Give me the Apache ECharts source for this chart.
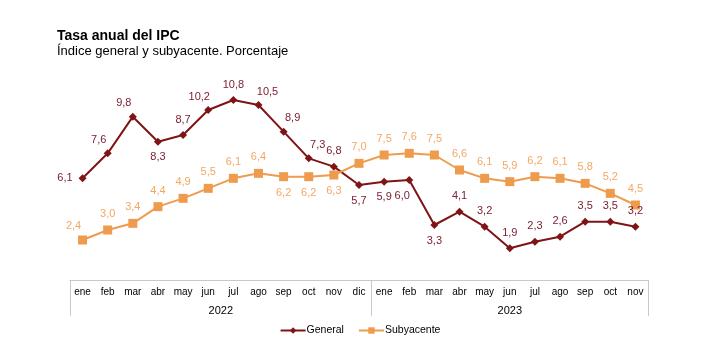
<!DOCTYPE html>
<html><head><meta charset="utf-8">
<script src="https://cdn.jsdelivr.net/npm/echarts@6/dist/echarts.min.js"></script>
<style>html,body{margin:0;padding:0;background:#fff}#c{width:720px;height:361px}</style>
</head><body><div id="c"></div>
<script>
var months = ['ene','feb','mar','abr','may','jun','jul','ago','sep','oct','nov','dic','ene','feb','mar','abr','may','jun','jul','ago','sep','oct','nov'];
var years = ['2022','2023'];
var general = [6.1,7.6,9.8,8.3,8.7,10.2,10.8,10.5,8.9,7.3,6.8,5.7,5.9,6.0,3.3,4.1,3.2,1.9,2.3,2.6,3.5,3.5,3.2];
var subyacente = [2.4,3.0,3.4,4.4,4.9,5.5,6.1,6.4,6.2,6.2,6.3,7.0,7.5,7.6,7.5,6.6,6.1,5.9,6.2,6.1,5.8,5.2,4.5];
// label placement per point (l = left, t = top, b = bottom, tl = top-left, tr = top-right, bl = bottom-left)
var genPos = ['l','tl','tl','b','t','tl','t','tr','tr','tr','t','b','b','bl','b','t','t','t','t','t','t','t','t'];
var subPos = ['tl','t','t','t','t','t','t','t','b','b','b','t','t','t','t','t','t','t','t','t','t','t','t'];

function fmt(p){ return p.value.toFixed(1).replace('.', ','); }
function lab(p, color){
  var o = {show:true, color:color, fontSize:11, fontFamily:'Liberation Sans, Arial, sans-serif', distance:6, formatter:fmt};
  if(p==='l'){o.position='left'; o.distance=6;}
  else if(p==='t'){o.position='top';}
  else if(p==='b'){o.position='bottom';}
  else if(p==='tl'){o.position='top'; o.offset=[-9,2];}
  else if(p==='tr'){o.position='top'; o.offset=[9,2];}
  else if(p==='bl'){o.position='bottom'; o.offset=[-7,0];}
  return o;
}
var genData = general.map(function(v,i){return {value:v, label:lab(genPos[i],'#7a2233')};});
var subData = subyacente.map(function(v,i){return {value:v, label:lab(subPos[i],'#f2a865')};});

// half-month positions for the year axis (47 points, boundaries at 0, 24, 46)
var halfSteps = [];
for (var k=0;k<=46;k++) halfSteps.push(k===12?years[0]:(k===35?years[1]:''));

var chart = echarts.init(document.getElementById('c'));
chart.setOption({
  animation:false,
  title:{text:'Tasa anual del IPC', subtext:'Índice general y subyacente. Porcentaje', left:52, top:24, itemGap:2,
    textStyle:{fontSize:14, fontWeight:'bold', color:'#000', fontFamily:'Liberation Sans, Arial, sans-serif'},
    subtextStyle:{fontSize:13, color:'#000', fontFamily:'Liberation Sans, Arial, sans-serif'}},
  legend:{bottom:20, left:'center', itemWidth:25, itemHeight:8, itemGap:14,
    textStyle:{fontSize:10.5, color:'#000', fontFamily:'Liberation Sans, Arial, sans-serif', padding:[0,0,0,-4]},
    data:['General','Subyacente']},
  grid:{left:70, right:72, top:80, bottom:81},
  xAxis:[{type:'category', data:months, boundaryGap:true,
      axisLine:{lineStyle:{color:'#c8c8c8'}},
      axisTick:{interval:0, length:22, lineStyle:{color:'#c8c8c8'}},
      axisLabel:{interval:0, margin:7, fontSize:10, color:'#000', fontFamily:'Liberation Sans, Arial, sans-serif'}},
    {type:'category', data:halfSteps, boundaryGap:false, position:'bottom',
      axisLine:{show:false},
      axisTick:{show:true, length:36, interval:function(i){return i===0||i===24||i===46;}, lineStyle:{color:'#c8c8c8'}},
      axisLabel:{interval:0, margin:25, fontSize:11, color:'#000', fontFamily:'Liberation Sans, Arial, sans-serif'}}],
  yAxis:{type:'value', min:0, max:12, show:false, splitLine:{show:false}},
  series:[
    {name:'General', type:'line', data:genData, symbol:'diamond', symbolSize:8,
      lineStyle:{color:'#7f1416', width:2}, itemStyle:{color:'#7f1416'}},
    {name:'Subyacente', type:'line', data:subData, symbol:'rect', symbolSize:9,
      lineStyle:{color:'#ef9b4d', width:2}, itemStyle:{color:'#ef9b4d'}}
  ]
});
</script></body></html>
